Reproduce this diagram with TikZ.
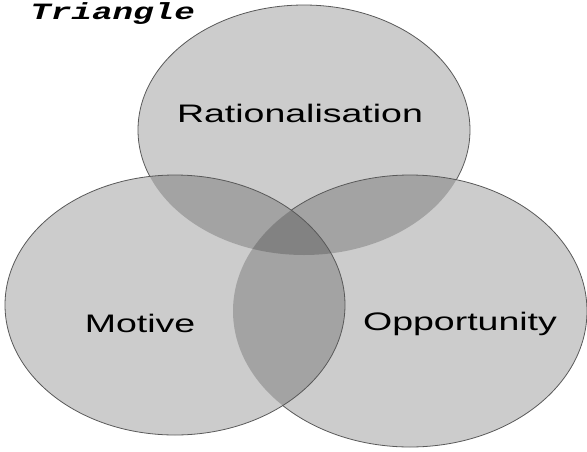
\documentclass[tikz,border=0pt]{standalone}
\usepackage{fontspec}
\setmainfont{Liberation Sans}
\newfontfamily\titlefont{Liberation Mono}
\usepackage{tikz}
\usetikzlibrary{positioning}

\begin{document}
\begin{tikzpicture}[
    x=0.75pt, y=-0.75pt,
    ring/.style={fill=black, fill opacity=0.2},
    rim/.style={draw=black!65, line width=0.6pt},
    tag/.style={anchor=base, inner sep=0pt, font=\fontsize{19}{22}\selectfont},
    heading/.style={anchor=base west, inner sep=0pt, font=\titlefont\bfseries\itshape\fontsize{17.5}{20}\selectfont}
]
\useasboundingbox (0,0) rectangle (587,451);

% titre
\node[heading] (title) at (30,19) {\scalebox{1.47}[1]{Triangle}};

% les trois cercles (fond)
\fill[ring] (304,130) ellipse [x radius=166, y radius=125];
\fill[ring] (410,311) ellipse [x radius=177, y radius=136];
\fill[ring] (175,305) ellipse [x radius=170, y radius=130];

% contours, caches sous les cercles du dessus
\begin{scope}[even odd rule]
  \clip (-10,-10) rectangle (600,460) (410,311) ellipse [x radius=177, y radius=136];
  \clip (-10,-10) rectangle (600,460) (175,305) ellipse [x radius=170, y radius=130];
  \draw[rim] (304,130) ellipse [x radius=166, y radius=125];
\end{scope}
\begin{scope}[even odd rule]
  \clip (-10,-10) rectangle (600,460) (175,305) ellipse [x radius=170, y radius=130];
  \draw[rim] (410,311) ellipse [x radius=177, y radius=136];
\end{scope}
\draw[rim] (175,305) ellipse [x radius=170, y radius=130];

% libelles
\node[tag] (rat) at (300,122) {\scalebox{1.48}[1]{Rationalisation}};
\node[tag] (mot) at (140,332) {\scalebox{1.48}[1]{Motive}};
\node[tag] (opp) at (460,330) {\scalebox{1.48}[1]{Opportunity}};

\end{tikzpicture}
\end{document}
